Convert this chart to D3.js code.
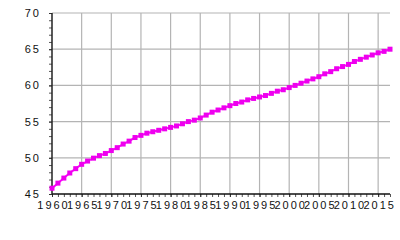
<!DOCTYPE html>
<html>
<head>
<meta charset="utf-8">
<script src="https://cdn.jsdelivr.net/npm/d3@7"></script>
<style>
body { margin: 0; background: #fff; }
text { font-family: "Liberation Sans", Arial, sans-serif; font-size: 11px; fill: #111; letter-spacing: 2px; }
</style>
</head>
<body>
<svg id="chart" width="400" height="240"></svg>
<script>
var years = d3.range(1960, 2018);
var values = [45.8, 46.5, 47.2, 47.9, 48.5, 49.1, 49.55, 49.95, 50.3, 50.6,
              51.0, 51.4, 51.9, 52.3, 52.8, 53.1, 53.4, 53.6, 53.8, 54.0,
              54.2, 54.4, 54.7, 55.0, 55.2, 55.5, 55.9, 56.3, 56.6, 56.9,
              57.2, 57.5, 57.7, 58.0, 58.2, 58.4, 58.6, 58.9, 59.2, 59.4,
              59.7, 60.0, 60.3, 60.6, 60.9, 61.2, 61.6, 61.9, 62.3, 62.6,
              62.9, 63.3, 63.6, 63.9, 64.2, 64.5, 64.7, 65.0];
var xTicks = [1960, 1965, 1970, 1975, 1980, 1985, 1990, 1995, 2000, 2005, 2010, 2015];
var yTicks = [45, 50, 55, 60, 65, 70];

var svg = d3.select("#chart"),
    margin = {top: 13, right: 10, bottom: 46, left: 52},
    width = +svg.attr("width") - margin.left - margin.right,
    height = +svg.attr("height") - margin.top - margin.bottom,
    g = svg.append("g").attr("transform", "translate(" + margin.left + "," + margin.top + ")");

var data = years.map(function(d, i) { return {year: d, value: values[i]}; });

var x = d3.scaleLinear().domain([1960, 2017]).range([0, width]);
var y = d3.scaleLinear().domain([45, 70]).range([height, 0]);

// grid
g.append("g")
    .selectAll("line")
    .data(xTicks.slice(1))
    .enter().append("line")
    .attr("x1", function(d) { return x(d); })
    .attr("x2", function(d) { return x(d); })
    .attr("y1", 0)
    .attr("y2", height)
    .attr("stroke", "#b4b4b4")
    .attr("stroke-width", 1.2);

g.append("g")
    .selectAll("line")
    .data(yTicks.slice(1))
    .enter().append("line")
    .attr("x1", 0)
    .attr("x2", width)
    .attr("y1", function(d) { return y(d); })
    .attr("y2", function(d) { return y(d); })
    .attr("stroke", "#b4b4b4")
    .attr("stroke-width", 1.2);

// minor ticks
g.append("g")
    .attr("transform", "translate(0," + height + ")")
    .call(d3.axisBottom(x).tickValues(years).tickSize(3).tickFormat(""))
    .call(function(a) { a.select(".domain").remove(); a.selectAll("line").attr("stroke", "#555"); });

g.append("g")
    .call(d3.axisLeft(y).tickValues(d3.range(45, 71)).tickSize(3).tickFormat(""))
    .call(function(a) { a.select(".domain").remove(); a.selectAll("line").attr("stroke", "#555"); });

// axes with labels
g.append("g")
    .attr("transform", "translate(0," + height + ")")
    .call(d3.axisBottom(x).tickValues(xTicks).tickSize(3).tickPadding(4).tickFormat(d3.format("d")))
    .call(function(a) {
        a.select(".domain").remove();
        a.selectAll("line").attr("stroke", "#333");
        a.selectAll("text").attr("font-size", null).attr("font-family", null).attr("dx", "1");
    });

g.append("g")
    .call(d3.axisLeft(y).tickValues(yTicks).tickSize(3).tickPadding(8))
    .call(function(a) {
        a.select(".domain").remove();
        a.selectAll("line").attr("stroke", "#333");
        a.selectAll("text").attr("font-size", null).attr("font-family", null);
    });

g.append("line")
    .attr("x1", 0).attr("x2", width)
    .attr("y1", height).attr("y2", height)
    .attr("stroke", "#111").attr("stroke-width", 1.5);

g.append("line")
    .attr("x1", 0).attr("x2", 0)
    .attr("y1", 0).attr("y2", height)
    .attr("stroke", "#222").attr("stroke-width", 1.5);

// series
var line = d3.line()
    .x(function(d) { return x(d.year); })
    .y(function(d) { return y(d.value); });

g.append("path")
    .datum(data)
    .attr("fill", "none")
    .attr("stroke", "#ff00ff")
    .attr("stroke-width", 2)
    .attr("d", line);

g.append("g")
    .selectAll("rect")
    .data(data)
    .enter().append("rect")
    .attr("x", function(d) { return x(d.year) - 2.5; })
    .attr("y", function(d) { return y(d.value) - 2.5; })
    .attr("width", 5)
    .attr("height", 5)
    .attr("fill", "#ee00ee");
</script>
</body>
</html>
